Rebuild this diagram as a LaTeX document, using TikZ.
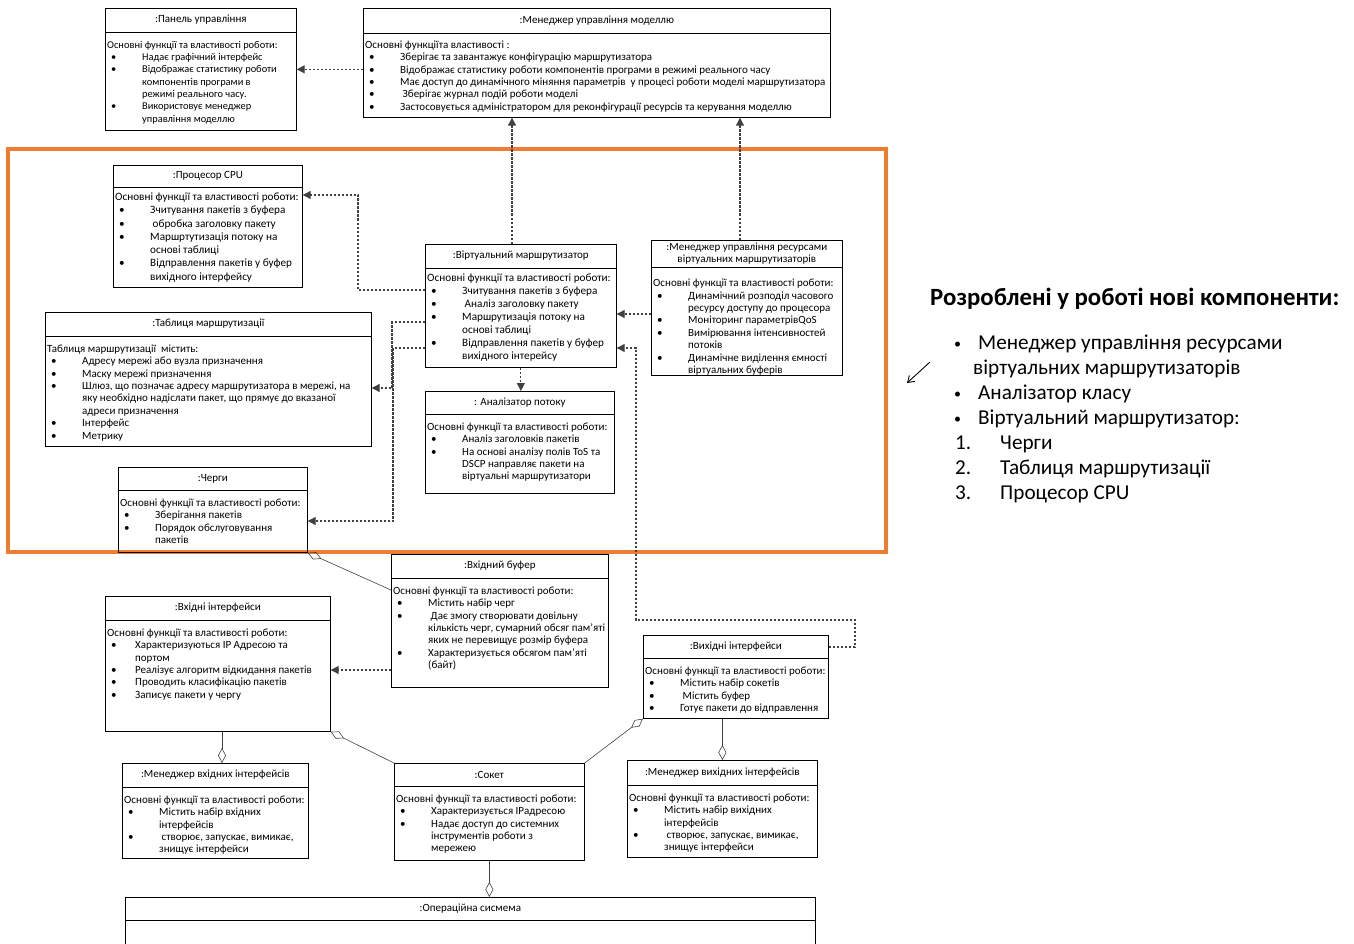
\documentclass[tikz,border=0pt]{standalone}
\usepackage{fontspec}
\setmainfont{Carlito}
\usetikzlibrary{arrows.meta,calc,positioning}
\definecolor{frameorange}{RGB}{237,125,49}
\newlength{\bind}
\setlength{\bind}{35pt}
\newcommand{\bl}{\makebox[\bind][l]{\hspace{4pt}\textbullet}}
\newcommand{\cl}{\hspace*{\bind}}
\tikzset{cls/.style={draw, line width=0.7pt, inner sep=0pt},
  cls title/.style={align=center, inner sep=0pt, font=\fontsize{11}{12}\selectfont},
  cls body/.style={anchor=north west, align=left, inner xsep=2pt, inner ysep=8.5pt, font=\fontsize{11}{12.4}\selectfont},
  dep/.style={draw=black!75, line width=1.1pt, dash pattern=on 2.5pt off 1.5pt, -{Triangle[length=8pt,width=8pt]}},
  agg/.style={draw=black!75, line width=0.6pt, {Diamond[open,length=15pt,width=8pt]}-},
  newitem/.style={anchor=base west, inner sep=0pt, font=\fontsize{21.2}{24}\selectfont},
  newbullet/.style={anchor=base west, inner sep=0pt, font=\fontsize{14}{15}\selectfont}}
% name, x, y, width, height, title height, body style, title, body
\newcommand{\umlclass}[9]{%
  \node[cls, minimum width=#4pt, minimum height=#5pt, anchor=north west] (#1) at (#2,#3) {};
  \draw[line width=0.7pt] ([yshift=-#6pt]#1.north west) -- ([yshift=-#6pt]#1.north east);
  \node[cls title] (#1-t) at ($(#1.north west)!0.5!([yshift=-#6pt]#1.north east)$) {#8};
  \node[cls body, #7] (#1-b) at ([yshift=-#6pt]#1.north west) {#9};
}

\begin{document}
\begin{tikzpicture}[x=1pt, y=-1pt]
\useasboundingbox (0,0) rectangle (1354,944);
\clip (0,0) rectangle (1354,944);

\draw[frameorange, line width=4pt] (8,149) rectangle (886,552);

\umlclass{panel}{105}{8}{191}{122}{24}{font=\fontsize{10.4}{12.3}\selectfont, inner ysep=9pt}{:Панель управління}
{Основні функції та властивості роботи:\\
\bl Надає графічний інтерфейс\\
\bl Відображає статистику роботи\\
\cl компонентів програми в\\
\cl режимі реального часу.\\
\bl Використовує менеджер\\
\cl управління моделлю}

\umlclass{modelmgr}{363}{8}{467}{109}{25}{inner ysep=7.5pt}{:Менеджер управління моделлю}
{Основні функціїта властивості :\\
\bl Зберігає та завантажує конфігурацію маршрутизатора\\
\bl Відображає статистику роботи компонентів програми в режимі реального часу\\
\bl Має доступ до динамічного міняння параметрів \ у процесі роботи моделі маршрутизатора\\
\bl\ Зберігає журнал подій роботи моделі\\
\bl Застосовується адміністратором для реконфігурації ресурсів та керування моделлю}

\umlclass{cpu}{113}{165}{189}{122}{22}{font=\fontsize{11.2}{13.3}\selectfont, inner ysep=5.5pt}{:Процесор CPU}
{Основні функції та властивості роботи:\\
\bl Зчитування пакетів з буфера\\
\bl\ обробка заголовку пакету\\
\bl Маршртутизація потоку на\\
\cl основі таблиці\\
\bl Відправлення пакетів у буфер\\
\cl вихідного інтерфейсу}

\umlclass{vrouter}{425}{244}{191}{123}{24}{font=\fontsize{11.2}{13}\selectfont, inner ysep=6pt}{:Віртуальний маршрутизатор}
{Основні функції та властивості роботи:\\
\bl Зчитування пакетів з буфера\\
\bl\ Аналіз заголовку пакету\\
\bl Маршрутизація потоку на\\
\cl основі таблиці\\
\bl Відправлення пакетів у буфер\\
\cl вихідного інтерейсу}

\umlclass{resmgr}{651}{240}{191}{135}{27}{inner ysep=12pt}{:Менеджер управління ресурсами\\віртуальних маршрутизаторів}
{Основні функції та властивості роботи:\\
\bl Динамічний розподіл часового\\
\cl ресурсу доступу до процесора\\
\bl Моніторинг параметрівQoS\\
\bl Вимірювання інтенсивностей\\
\cl потоків\\
\bl Динамічне виділення ємності\\
\cl віртуальних буферів}

\umlclass{table}{45}{312}{326}{134}{24}{}{:Таблиця маршрутизації}
{Таблиця маршрутизації \ містить:\\
\bl Адресу мережі або вузла призначення\\
\bl Маску мережі призначення\\
\bl Шлюз, що позначає адресу маршрутизатора в мережі, на\\
\cl яку необхідно надіслати пакет, що прямує до вказаної\\
\cl адреси призначення\\
\bl Інтерфейс\\
\bl Метрику}

\umlclass{analyzer}{425}{391}{189}{102}{23}{}{: Аналізатор потоку}
{Основні функції та властивості роботи:\\
\bl Аналіз заголовків пакетів\\
\bl На основі аналізу полів ToS та\\
\cl DSCP направляє пакети на\\
\cl віртуальні маршрутизатори}

\umlclass{queues}{118}{467}{189}{85}{23}{}{:Черги}
{Основні функції та властивості роботи:\\
\bl Зберігання пакетів\\
\bl Порядок обслуговування\\
\cl пакетів}

\umlclass{inbuf}{391}{554}{217}{133}{24}{}{:Вхідний буфер}
{Основні функції та властивості роботи:\\
\bl Містить набір черг\\
\bl\ Дає змогу створювати довільну\\
\cl кількість черг, сумарний обсяг пам'яті\\
\cl яких не перевищує розмір буфера\\
\bl Характеризується обсягом пам'яті\\
\cl (байт)}

\umlclass{inif}{105}{596}{225}{135}{24}{execute at begin node={\setlength{\bind}{28pt}}}{:Вхідні інтерфейси}
{Основні функції та властивості роботи:\\
\bl Характеризуються IP Адресою та\\
\cl портом\\
\bl Реалізує алгоритм відкидання пакетів\\
\bl Проводить класифікацію пакетів\\
\bl Записує пакети у чергу}

\umlclass{outif}{643}{635}{185}{83}{23}{}{:Вихідні інтерфейси}
{Основні функції та властивості роботи:\\
\bl Містить набір сокетів\\
\bl\ Містить буфер\\
\bl Готує пакети до відправлення}

\umlclass{inmgr}{122}{763}{186}{95}{24}{}{:Менеджер вхідних інтерфейсів}
{Основні функції та властивості роботи:\\
\bl Містить набір вхідних\\
\cl інтерфейсів\\
\bl\ створює, запускає, вимикає,\\
\cl знищує інтерфейси}

\umlclass{socket}{394}{763}{190}{97}{23}{}{:Сокет}
{Основні функції та властивості роботи:\\
\bl Характеризується IPадресою\\
\bl Надає доступ до системних\\
\cl інструментів роботи з\\
\cl мережею}

\umlclass{outmgr}{627}{760}{190}{97}{25}{}{:Менеджер вихідних інтерфейсів}
{Основні функції та властивості роботи:\\
\bl Містить набір вихідних\\
\cl інтерфейсів\\
\bl\ створює, запускає, вимикає,\\
\cl знищує інтерфейси}

\umlclass{os}{125}{897}{690}{70}{23}{}{:Операційна сисмема}{}

% bends of the dashed connectors
\coordinate (k1) at (358,290);
\coordinate (k2) at (358,195);
\coordinate (k3) at (392,322);
\coordinate (k4) at (392,388);
\coordinate (k5) at (393,348);
\coordinate (k6) at (393,521);
\coordinate (k7) at (855,647);
\coordinate (k8) at (855,620);
\coordinate (k9) at (636,620);
\coordinate (k10) at (636,348);
\coordinate (k11) at (640,314);
\coordinate (k12) at (360,670);
\coordinate (k13) at (512,0);
\coordinate (k14) at (740,0);
\coordinate (k15) at (0,590);
\coordinate (k16) at (222,0);

\draw[dep] (modelmgr.west |- panel.east) -- (panel.east);
\draw[dep] (vrouter.north -| k13) -- (modelmgr.south -| k13);
\draw[dep] (resmgr.north -| k14) -- (modelmgr.south -| k14);
\draw[dep] (vrouter.west |- k1) -- (k1) -- (k2) -- (cpu.east |- k2);
\draw[dep] (vrouter.west |- k3) -- (k3) -- (k4) -- (table.east |- k4);
\draw[dep] (vrouter.west |- k5) -- (k5) -- (k6) -- (queues.east |- k6);
\draw[dep] (vrouter.south) -- (vrouter.south |- analyzer.north);
\draw[dep] (resmgr.west |- k11) -- (vrouter.east |- k11);
\draw[dep] (outif.east |- k7) -- (k7) -- (k8) -- (k9) -- (k10) -- (vrouter.east |- k10);
\draw[dep] (inbuf.west |- k12) -- (inif.east |- k12);

\draw[agg] (queues.south east) -- (inbuf.west |- k15);
\draw[agg] (inmgr.north -| k16) -- (inif.south -| k16);
\draw[agg] (inif.south east) -- (socket.north west);
\draw[agg] (outif.south west) -- (socket.north east);
\draw[agg] (outmgr.north) -- (outmgr.north |- outif.south);
\draw[agg] (os.north -| socket.south) -- (socket.south);

% new components
\node[anchor=base west, inner sep=0pt, font=\fontsize{24.8}{28}\selectfont\bfseries] (new-title) at (930,305) {Розроблені у роботі нові компоненти:};
\node[newbullet] (new-b1) at (954,348) {•};
\node[newitem] (new-1) at (978,349) {Менеджер управління ресурсами};
\node[newitem] (new-1b) at (973,374) {віртуальних маршрутизаторів};
\node[newbullet] (new-b2) at (954,398) {•};
\node[newitem] (new-2) at (978,399) {Аналізатор класу};
\node[newbullet] (new-b3) at (954,423) {•};
\node[newitem] (new-3) at (978,424) {Віртуальний маршрутизатор:};
\node[newitem] (new-n1) at (955,449) {1.};
\node[newitem] (new-4) at (1000,449) {Черги};
\node[newitem] (new-n2) at (955,474) {2.};
\node[newitem] (new-5) at (1000,474) {Таблиця маршрутизації};
\node[newitem] (new-n3) at (955,499) {3.};
\node[newitem] (new-6) at (1000,499) {Процесор CPU};

\coordinate (p1) at (930,362);
\coordinate (p2) at (907,383);
\draw[line width=0.9pt, -{Straight Barb[length=6pt,width=8pt]}] (p1) -- (p2);
\end{tikzpicture}
\end{document}
